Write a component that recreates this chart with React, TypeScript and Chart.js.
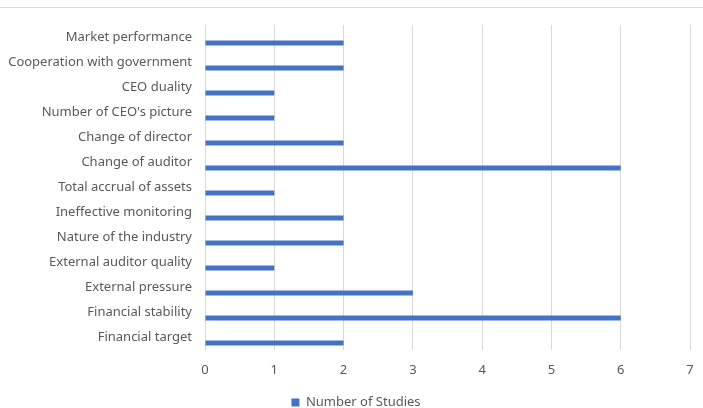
import React, { useEffect, useRef } from "react";
import { Chart, registerables } from "chart.js";

Chart.register(...registerables);

const categories = [
  "Market performance",
  "Cooperation with government",
  "CEO duality",
  "Number of CEO's picture",
  "Change of director",
  "Change of auditor",
  "Total accrual of assets",
  "Ineffective monitoring",
  "Nature of the industry",
  "External auditor quality",
  "External pressure",
  "Financial stability",
  "Financial target",
];

const studies = [2, 2, 1, 1, 2, 6, 1, 2, 2, 1, 3, 6, 2];
const seriesName = "Number of Studies";
const xTicks = [0, 1, 2, 3, 4, 5, 6, 7];

const topLine = {
  id: "topLine",
  beforeDraw(chart: any) {
    const ctx = chart.ctx;
    ctx.save();
    ctx.strokeStyle = "#d9d9d9";
    ctx.lineWidth = 1;
    ctx.beginPath();
    ctx.moveTo(0, 7.5);
    ctx.lineTo(chart.width, 7.5);
    ctx.stroke();
    ctx.restore();
  },
  afterLayout(chart: any) {
    if (chart.legend) chart.legend.left += 22;
  },
};

export default function App() {
  const ref = useRef<HTMLCanvasElement | null>(null);
  useEffect(() => {
    document.body.style.margin = "0";
    const font = { family: "'Noto Sans', sans-serif", size: 13 };
    const chart = new Chart(ref.current as HTMLCanvasElement, {
      type: "bar",
      data: {
        labels: categories,
        datasets: [
          {
            label: "_spacer",
            data: categories.map(() => null),
            backgroundColor: "rgba(0,0,0,0)",
          },
          {
            label: seriesName,
            data: studies,
            backgroundColor: "#4472C4",
            borderWidth: 0,
          },
        ],
      },
      options: {
        indexAxis: "y",
        animation: false,
        responsive: true,
        maintainAspectRatio: false,
        datasets: {
          bar: { categoryPercentage: 0.88, barPercentage: 0.455 },
        },
        layout: { padding: { top: 25, right: 13, left: 0, bottom: -11 } },
        scales: {
          x: {
            min: 0,
            max: 7,
            afterBuildTicks: (scale: any) => {
              scale.ticks = xTicks.map((v) => ({ value: v }));
            },
            afterFit: (scale: any) => {
              scale.height = 46;
              scale.paddingRight = 0;
              scale.paddingLeft = 0;
            },
            grid: { color: "#d9d9d9", drawTicks: false },
            border: { display: false },
            ticks: { color: "#595959", font, padding: 12 },
          },
          y: {
            afterFit: (scale: any) => {
              scale.width = 205;
            },
            grid: { display: false, drawTicks: false },
            border: { display: false },
            ticks: { color: "#595959", font, padding: 13, autoSkip: false },
          },
        },
        plugins: {
          tooltip: { enabled: false },
          legend: {
            position: "bottom",
            labels: {
              color: "#595959",
              font,
              boxWidth: 8,
              boxHeight: 8,
              padding: 0,
              filter: (item: any) => item.text !== "_spacer",
            },
          },
        },
      },
      plugins: [topLine],
    });
    return () => chart.destroy();
  }, []);
  return (
    <div style={{ width: 703, height: 408, position: "relative" }}>
      <canvas ref={ref} />
    </div>
  );
}
